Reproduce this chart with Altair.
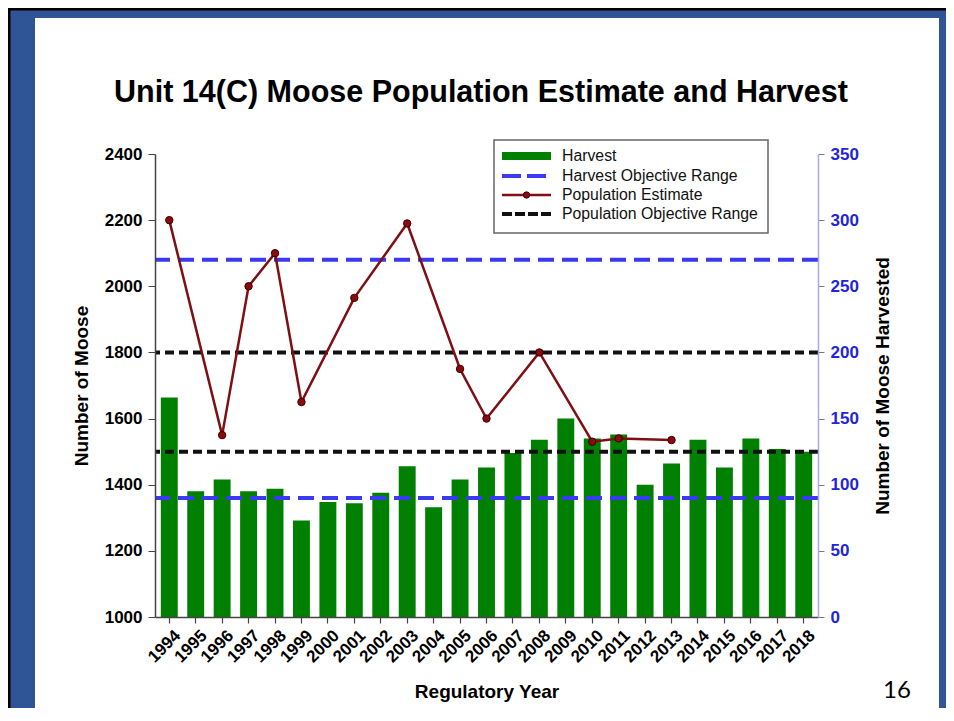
import altair as alt
import pandas as pd

# ---- data ----
years = [str(y) for y in range(1994, 2019)]
harvest = [166, 95, 104, 95, 97, 73, 87, 86, 94, 114, 83, 104, 113,
           124, 134, 150, 135, 138, 100, 116, 134, 113, 135, 127, 125]
pop_years = ["1994", "1996", "1997", "1998", "1999", "2001", "2003",
             "2005", "2006", "2008", "2010", "2011", "2013"]
pop_values = [2200, 1550, 2000, 2100, 1650, 1965, 2190, 1750, 1600,
              1800, 1530, 1540, 1535]
harvest_objective = [90, 270]
population_objective = [1500, 1800]
legend_labels = ["Harvest", "Harvest Objective Range",
                 "Population Estimate", "Population Objective Range"]
title_text = "Unit 14(C) Moose Population Estimate and Harvest"

FONT = "Liberation Sans"
GREEN = "#008000"
BLUE = "#3A3AF2"
RED = "#7E0F12"
FRAME = "#2F5597"

harvest_df = pd.DataFrame({"year": years, "harvest": harvest})
pop_df = pd.DataFrame({"year": pop_years, "population": pop_values})
hobj_df = pd.DataFrame({"value": harvest_objective})
pobj_df = pd.DataFrame({"value": population_objective})
one = pd.DataFrame({"k": [0]})

xenc = alt.X("year:N", scale=alt.Scale(domain=years, paddingInner=0.36, paddingOuter=0.22),
             axis=alt.Axis(title="Regulatory Year", labelAngle=-45, labelFont=FONT,
                           labelFontWeight="bold", labelFontSize=17, labelColor="black",
                           titleFont=FONT, titleFontWeight="bold", titleFontSize=19,
                           titleColor="black", titlePadding=17, domainColor="#444444",
                           tickColor="#444444", tickSize=6, domainWidth=1.5, tickWidth=1.2,
                           labelPadding=4, labelOffset=3, zindex=1))

pop_scale = alt.Scale(domain=[1000, 2400], nice=False, zero=False)
harv_scale = alt.Scale(domain=[0, 350], nice=False)

# frame decorations
white = alt.Chart(one).mark_rect(fill="white").encode(
    x=alt.value(-120), x2=alt.value(784), y=alt.value(-136), y2=alt.value(561))
border = alt.Chart(one).mark_rect(fill="transparent", stroke="black", strokeWidth=3).encode(
    x=alt.value(-146), x2=alt.value(800), y=alt.value(-145), y2=alt.value(600))

title = alt.Chart(one).mark_text(text=title_text, font=FONT, fontWeight="bold", fontSize=30.5,
                                 color="black", align="center", baseline="alphabetic").encode(
    x=alt.value(326), y=alt.value(-52))

bars = alt.Chart(harvest_df).mark_bar(color=GREEN).encode(
    x=xenc,
    y=alt.Y("harvest:Q", scale=harv_scale,
            axis=alt.Axis(orient="right", title="Number of Moose Harvested",
                          values=list(range(0, 351, 50)), grid=False,
                          labelFont=FONT, labelFontWeight="bold", labelFontSize=17,
                          labelColor="#2424D8", titleFont=FONT, titleFontWeight="bold",
                          titleFontSize=19, titleColor="black", titleAngle=270,
                          titleBaseline="bottom",
                          domainColor="#A8A8F0",
                          domainWidth=1.5, tickColor="#777777", tickSize=6,
                          labelPadding=6, titlePadding=34, zindex=1)))

hobj = alt.Chart(hobj_df).mark_rule(color=BLUE, strokeWidth=4, strokeDash=[16, 8]).encode(
    y=alt.Y("value:Q", scale=harv_scale, axis=None))

pobj = alt.Chart(pobj_df).mark_rule(color="#111111", strokeWidth=4, strokeDash=[9, 5]).encode(
    y=alt.Y("value:Q", scale=pop_scale, axis=None))

line = alt.Chart(pop_df).mark_line(
    color=RED, strokeWidth=2.5,
    point=alt.OverlayMarkDef(filled=True, fill="#8A0A0E", stroke="#3A0000",
                             strokeWidth=1, size=55)).encode(
    x=xenc,
    y=alt.Y("population:Q", scale=pop_scale,
            axis=alt.Axis(orient="left", title="Number of Moose", format="d",
                          values=list(range(1000, 2401, 200)), grid=False,
                          labelFont=FONT, labelFontWeight="bold", labelFontSize=17,
                          labelColor="black", titleFont=FONT, titleFontWeight="bold",
                          titleFontSize=19, titleColor="black", domainColor="#444444",
                          domainWidth=1.5, tickColor="#444444", tickSize=7,
                          labelPadding=6, titlePadding=13, zindex=1)))

# legend (drawn)
lx0, lx1, tx = 347, 396, 407
rows_y = [2, 22, 41, 60]
leg_box = alt.Chart(one).mark_rect(fill="white", stroke="#666666", strokeWidth=1.5).encode(
    x=alt.value(339), x2=alt.value(613), y=alt.value(-14), y2=alt.value(79))
sw1 = alt.Chart(one).mark_rule(color=GREEN, strokeWidth=8).encode(
    x=alt.value(lx0), x2=alt.value(lx1), y=alt.value(rows_y[0]))
sw2 = alt.Chart(one).mark_rule(color=BLUE, strokeWidth=4, strokeDash=[19, 6]).encode(
    x=alt.value(lx0), x2=alt.value(lx1), y=alt.value(rows_y[1]))
sw3 = alt.Chart(one).mark_rule(color=RED, strokeWidth=2.5).encode(
    x=alt.value(lx0), x2=alt.value(lx1), y=alt.value(rows_y[2]))
sw3p = alt.Chart(one).mark_point(filled=True, fill="#8A0A0E", stroke="#3A0000",
                                 strokeWidth=1, size=40, opacity=1).encode(
    x=alt.value((lx0 + lx1) / 2), y=alt.value(rows_y[2]))
sw4 = alt.Chart(one).mark_rule(color="#111111", strokeWidth=4, strokeDash=[10, 3]).encode(
    x=alt.value(lx0), x2=alt.value(lx1), y=alt.value(rows_y[3]))
leg_texts = [
    alt.Chart(one).mark_text(text=lab, font=FONT, fontSize=15.8, color="#111111",
                             align="left", baseline="middle").encode(
        x=alt.value(tx), y=alt.value(yy))
    for lab, yy in zip(legend_labels, rows_y)
]

page_no = alt.Chart(one).mark_text(text="16", font="Lato", fontSize=24, color="black",
                                   align="center", baseline="alphabetic").encode(
    x=alt.value(742), y=alt.value(544))

chart = alt.layer(
    white, border, title, bars, hobj, pobj, line,
    leg_box, sw1, sw2, sw3, sw3p, sw4, *leg_texts, page_no
).resolve_scale(y="independent").properties(
    width=663, height=463,
    background=FRAME,
    autosize=alt.AutoSizeParams(type="none"),
    padding={"left": 147, "top": 146, "right": 128, "bottom": 91},
).configure_view(strokeWidth=0)

chart.save("out.html", embed_options={"renderer": "svg", "actions": False})
